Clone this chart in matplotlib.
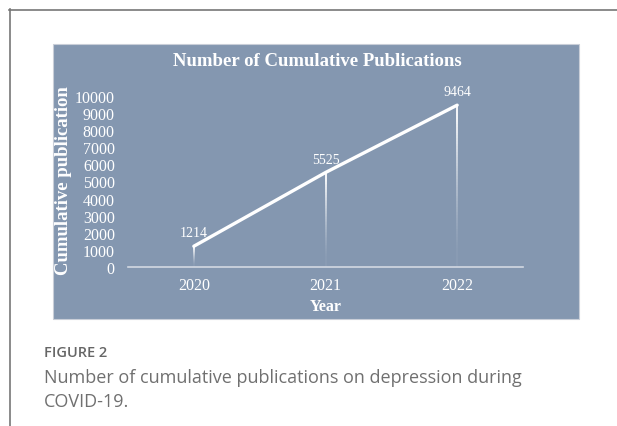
import numpy as np
import matplotlib
matplotlib.use('Agg')
import matplotlib.pyplot as plt
from matplotlib.patches import Rectangle
from matplotlib.lines import Line2D
from matplotlib.collections import LineCollection

years = [2020, 2021, 2022]
cumulative = [1214, 5525, 9464]
y_ticks = list(range(0, 10001, 1000))

title = 'Number of Cumulative Publications'
x_label = 'Year'
y_label = 'Cumulative publication'
fig_label = 'FIGURE 2'
caption = 'Number of cumulative publications on depression during\nCOVID-19.'

W, H = 617, 427
panel_color = '#8497b0'
serif = ['Liberation Serif', 'DejaVu Serif']
sans = ['Open Sans', 'DejaVu Sans']
plt.rcParams['font.family'] = serif

fig = plt.figure(figsize=(W / 100, H / 100), dpi=100)
fig.patch.set_facecolor('white')

def px(x, y):
    # pixel (from top-left) -> figure fraction
    return x / W, 1 - y / H

# page frame lines
fig.add_artist(Line2D([9.5 / W, 9.5 / W], [0, 1 - 10 / H], color='#777777', lw=1.2))
fig.add_artist(Line2D([9 / W, 1], [1 - 10.5 / H, 1 - 10.5 / H], color='#777777', lw=1.2))

# grey-blue panel behind the chart
x0, y0 = px(53, 320)
fig.add_artist(Rectangle((x0, y0), 526 / W, 275 / H, transform=fig.transFigure,
                         facecolor=panel_color, edgecolor='#c9ced8', lw=0.8, zorder=0))

l, b = px(128, 268)
r, t = px(523, 97)
ax = fig.add_axes([l, b, r - l, t - b])
ax.set_facecolor('none')
ax.set_xlim(2019.5, 2022.5)
ax.set_ylim(0, 10000)

# drop lines fading toward the axis
for xv, yv in zip(years, cumulative):
    ys = np.linspace(0, yv, 60)
    segs = [[(xv, ys[i]), (xv, ys[i + 1])] for i in range(len(ys) - 1)]
    alphas = np.clip((ys[1:] / yv) ** 1.5 * 1.1, 0.05, 1.0)
    cols = [(1, 1, 1, a) for a in alphas]
    ax.add_collection(LineCollection(segs, colors=cols, linewidths=1.3, zorder=2))

ax.plot(years, cumulative, color='white', lw=2.4, solid_capstyle='round', zorder=3)

for xv, yv in zip(years, cumulative):
    ax.annotate(str(yv), (xv, yv), xytext=(0, 5), textcoords='offset points',
                ha='center', va='bottom', color='white', fontsize=10)

ax.set_xticks(years)
ax.set_xticklabels([str(y) for y in years])
ax.set_yticks(y_ticks)
ax.tick_params(length=0, labelcolor='white', labelsize=11.5)
ax.tick_params(axis='x', pad=7)
ax.tick_params(axis='y', pad=9.5)

for s in ['top', 'right', 'left']:
    ax.spines[s].set_visible(False)
ax.spines['bottom'].set_color('#d3d9e2')
ax.spines['bottom'].set_linewidth(1.2)

fig.text(*px(317, 62), title, ha='center', va='center', color='white',
         fontsize=13.5, fontweight='bold')
fig.text(*px(326, 307), x_label, ha='center', va='center', color='white',
         fontsize=11.5, fontweight='bold')
fig.text(*px(64, 181), y_label, ha='center', va='center', rotation=90, color='white',
         fontsize=13.5, fontweight='bold')

fig.text(*px(44, 353), fig_label, ha='left', va='center', color='#666666',
         fontsize=10.5, fontweight='semibold', family=sans)
fig.text(*px(44, 390), caption, ha='left', va='center', color='#707070',
         fontsize=13, family=sans, linespacing=1.4)

fig.savefig('out.png', dpi=100)
